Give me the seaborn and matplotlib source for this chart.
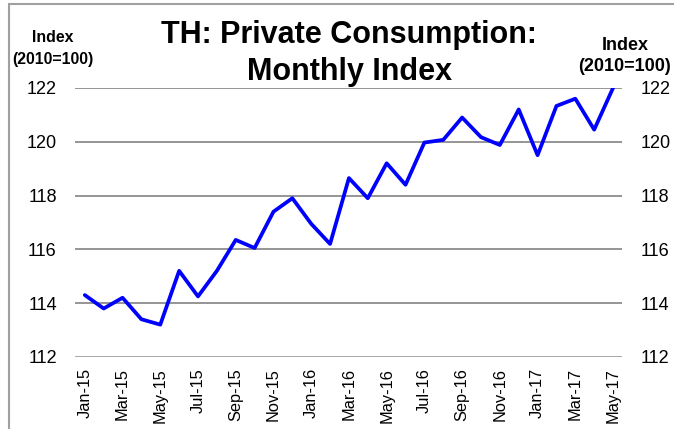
import matplotlib.pyplot as plt
import matplotlib.lines as mlines
import pandas as pd
import seaborn as sns

months = [
    "Jan-15", "Feb-15", "Mar-15", "Apr-15", "May-15", "Jun-15", "Jul-15", "Aug-15",
    "Sep-15", "Oct-15", "Nov-15", "Dec-15", "Jan-16", "Feb-16", "Mar-16", "Apr-16",
    "May-16", "Jun-16", "Jul-16", "Aug-16", "Sep-16", "Oct-16", "Nov-16", "Dec-16",
    "Jan-17", "Feb-17", "Mar-17", "Apr-17", "May-17",
]
consumption_index = [
    114.3, 113.8, 114.2, 113.4, 113.2, 115.2, 114.25, 115.2,
    116.35, 116.05, 117.4, 117.9, 116.95, 116.2, 118.65, 117.9,
    119.2, 118.4, 119.97, 120.07, 120.9, 120.17, 119.88, 121.2,
    119.5, 121.33, 121.6, 120.45, 122.0,
]
y_ticks = [112, 114, 116, 118, 120, 122]

df = pd.DataFrame({"pos": range(len(months)), "month": months, "index": consumption_index})

sns.set_style("white")
plt.rcParams["font.family"] = ["Liberation Sans", "DejaVu Sans"]
plt.rcParams["text.color"] = "black"
plt.rcParams["xtick.color"] = "black"
plt.rcParams["ytick.color"] = "black"

fig = plt.figure(figsize=(6.74, 4.29), dpi=100)
ax = fig.add_axes([0.111, 0.168, 0.812, 0.627])

# horizontal grid lines drawn first so the series sits on top
for yv in y_ticks:
    ax.axhline(yv, color="#8c8c8c", lw=1.3 if yv != 112 else 1.8, zorder=1)

sns.lineplot(data=df, x="pos", y="index", color="#0000ff", lw=2.7, ax=ax, zorder=3)

ax.set_xlim(-0.53, 28.48)
ax.set_ylim(112, 122)
ax.set_yticks(y_ticks)
ax.set_yticklabels([str(v) for v in y_ticks], fontsize=13)
ax.set_xticks(df["pos"][::2])
ax.set_xticklabels(df["month"][::2], rotation=90, fontsize=11.8)
ax.tick_params(axis="x", length=0, pad=8)
ax.tick_params(axis="y", length=0, pad=13)
ax.set_xlabel("")
ax.set_ylabel("")
for s in ax.spines.values():
    s.set_visible(False)

# mirrored scale on the right
ax2 = ax.twinx()
ax2.set_ylim(112, 122)
ax2.set_yticks(y_ticks)
ax2.set_yticklabels([str(v) for v in y_ticks], fontsize=13)
ax2.tick_params(axis="y", length=0, pad=13)
for s in ax2.spines.values():
    s.set_visible(False)

fig.text(0.518, 0.900, "TH: Private Consumption:", ha="center", va="baseline",
         fontsize=22, fontweight="bold")
fig.text(0.518, 0.814, "Monthly Index", ha="center", va="baseline",
         fontsize=22, fontweight="bold")
fig.text(0.079, 0.912, "Index", ha="center", va="center", fontsize=11.4, fontweight="bold")
fig.text(0.079, 0.862, "(2010=100)", ha="center", va="center", fontsize=11.4, fontweight="bold")
fig.text(0.927, 0.895, "Index", ha="center", va="center", fontsize=13, fontweight="bold")
fig.text(0.927, 0.846, "(2010=100)", ha="center", va="center", fontsize=13, fontweight="bold")

# grey frame on the left and top edges
fig.add_artist(mlines.Line2D([0.014, 0.014], [0.0, 0.99], color="#a0a0a0", lw=1.5))
fig.add_artist(mlines.Line2D([0.014, 1.0], [0.99, 0.99], color="#a0a0a0", lw=1.5))

fig.savefig("out.png", dpi=100)
